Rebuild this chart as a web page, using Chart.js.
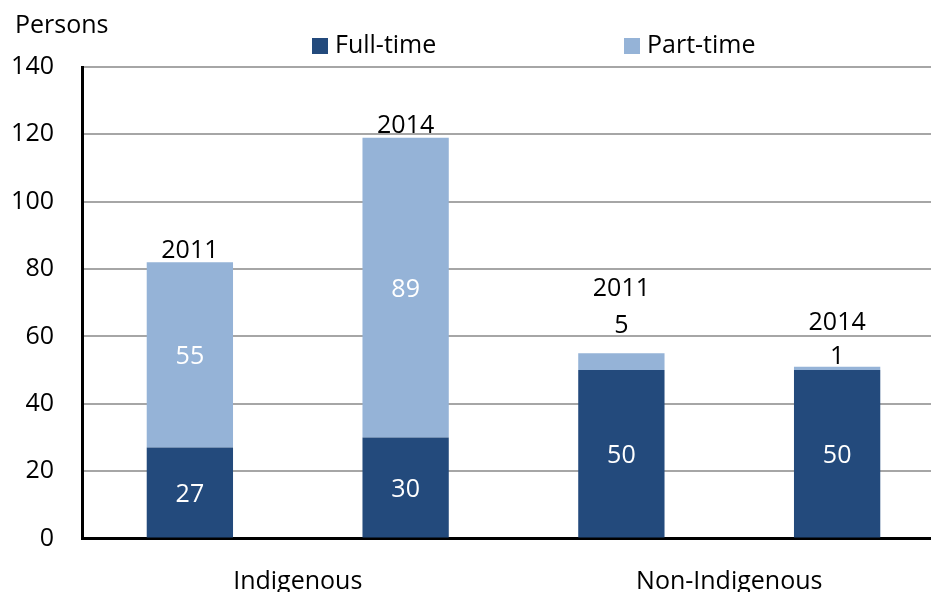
<!DOCTYPE html>
<html><head><meta charset="utf-8">
<script src="https://cdn.jsdelivr.net/npm/chart.js@4.4.1/dist/chart.umd.min.js"></script>
<style>
html,body{margin:0;padding:0;background:#fff;overflow:hidden}
#wrap{position:relative;width:931px;height:592px;overflow:hidden;background:#fff}
#box{position:absolute;left:0;top:0;width:960px;height:592px}
</style></head><body>
<div id="wrap"><div id="box"><canvas id="c"></canvas></div></div>
<script>
const groups = ['Indigenous', 'Non-Indigenous'];
const years = ['2011', '2014', '2011', '2014'];
const fullTime = [27, 30, 50, 50];
const partTime = [55, 89, 5, 1];
const yTicks = [0, 20, 40, 60, 80, 100, 120, 140];
const seriesNames = ['Full-time', 'Part-time'];

const FONT = "'Open Sans', sans-serif";
const FS = 25;
const DARK = '#234A7C';
const LIGHT = '#95B3D7';

const labelsPlugin = {
  id: 'labelsPlugin',
  afterDatasetsDraw(chart, args, opts) {
    const ctx = chart.ctx;
    const mF = chart.getDatasetMeta(0), mP = chart.getDatasetMeta(1);
    ctx.save();
    ctx.font = FS + 'px ' + FONT;
    ctx.textAlign = 'center';
    ctx.textBaseline = 'middle';
    for (let i = 0; i < fullTime.length; i++) {
      const f = mF.data[i], p = mP.data[i];
      ctx.fillStyle = '#fff';
      ctx.fillText(String(fullTime[i]), f.x, (f.y + f.base) / 2 + 2);
      if (opts.valueLift[i] === 0) {
        ctx.fillStyle = '#fff';
        ctx.fillText(String(partTime[i]), p.x, (p.y + p.base) / 2 + 2);
      } else {
        ctx.fillStyle = '#000';
        ctx.fillText(String(partTime[i]), p.x, p.y - opts.valueLift[i]);
      }
      ctx.fillStyle = '#000';
      ctx.fillText(years[i], p.x, p.y - opts.yearLift[i]);
    }
    // y-axis unit
    ctx.textAlign = 'left';
    ctx.fillStyle = '#000';
    ctx.fillText('Persons', 15, 26);
    // legend
    const cols = [DARK, LIGHT];
    for (let k = 0; k < seriesNames.length; k++) {
      const bx = opts.legendX[k];
      ctx.fillStyle = cols[k];
      ctx.fillRect(bx, 38, 16, 16);
      ctx.fillStyle = '#000';
      ctx.fillText(seriesNames[k], bx + 23, 46);
    }
    ctx.restore();
  }
};

new Chart(document.getElementById('c'), {
  type: 'bar',
  data: {
    labels: years,
    datasets: [
      { label: seriesNames[0], data: fullTime, backgroundColor: DARK, borderWidth: 0, xAxisID: 'x', yAxisID: 'y' },
      { label: seriesNames[1], data: partTime, backgroundColor: LIGHT, borderWidth: 0, xAxisID: 'x', yAxisID: 'y' }
    ]
  },
  options: {
    responsive: true,
    maintainAspectRatio: false,
    animation: false,
    devicePixelRatio: 1,
    layout: { padding: { top: 67, right: 15, left: 0, bottom: 0 } },
    datasets: { bar: { categoryPercentage: 1, barPercentage: 0.4 } },
    plugins: {
      legend: { display: false },
      tooltip: { enabled: false },
      labelsPlugin: { valueLift: [0, 0, 27, 10], yearLift: [11, 12, 64, 44], legendX: [312, 624] }
    },
    scales: {
      x: {
        type: 'category', stacked: true, position: 'bottom',
        grid: { display: false },
        ticks: { display: false },
        border: { display: true, color: '#000', width: 3 },
        afterFit(s) { s.height = 0; }
      },
      x2: {
        type: 'category', labels: groups, position: 'bottom', offset: true,
        grid: { display: false },
        border: { display: false },
        ticks: { color: '#000', font: { family: FONT, size: FS }, padding: 20 },
        afterFit(s) { s.height = 53.5; }
      },
      y: {
        stacked: true, min: 0, max: 140,
        afterBuildTicks(s) { s.ticks = yTicks.map(v => ({ value: v })); },
        grid: { color: '#a6a6a6', lineWidth: 2, drawTicks: false },
        border: { display: true, color: '#000', width: 3 },
        ticks: { color: '#000', font: { family: FONT, size: FS }, padding: 28 },
        afterFit(s) { s.width = 82; }
      }
    }
  },
  plugins: [labelsPlugin]
});
</script>
</body></html>
